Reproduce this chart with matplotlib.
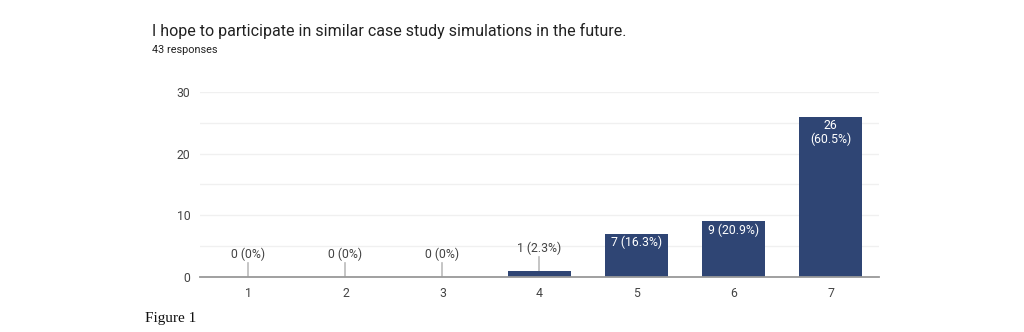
import os

os.environ.setdefault("MPLBACKEND", "Agg")

import matplotlib.pyplot as plt
import numpy as np

plt.rcParams.update({"font.family": ["Roboto", "DejaVu Sans"]})

# data
categories = ["1", "2", "3", "4", "5", "6", "7"]
counts = [0, 0, 0, 1, 7, 9, 26]
percents = ["0%", "0%", "0%", "2.3%", "16.3%", "20.9%", "60.5%"]
y_ticks = [0, 10, 20, 30]

BAR = "#2f4574"
GRID = "#f0f0f0"
TEXT = "#444444"

fig = plt.figure(figsize=(10.24, 3.32), dpi=100)
ax = fig.add_axes([0.1953, 0.1657, 0.6631, 0.5572])

x = np.arange(1, len(categories) + 1)
ax.bar(x, counts, width=0.64, color=BAR, zorder=3)

ax.set_xlim(0.5, len(categories) + 0.5)
ax.set_ylim(0, 30)
ax.set_yticks(y_ticks)
ax.set_yticks([5, 15, 25], minor=True)
ax.set_xticks(x)
ax.set_xticklabels(categories)
ax.tick_params(axis="both", length=0, labelsize=8.8, labelcolor=TEXT, pad=7)
ax.tick_params(axis="y", which="minor", length=0)
ax.grid(axis="y", which="both", color=GRID, linewidth=1, zorder=0)
for side in ("top", "right", "left"):
    ax.spines[side].set_visible(False)
ax.spines["bottom"].set_color("#999999")
ax.spines["bottom"].set_linewidth(1.3)
ax.spines["bottom"].set_zorder(4)

for xi, n, pct in zip(x, counts, percents):
    label = f"{n} ({pct})"
    if n <= 1:
        # label above with a small leader line
        ax.plot([xi, xi], [n, n + 2.2], color="#bbbbbb", linewidth=1.2, zorder=2)
        ax.text(xi, n + 2.6, label, ha="center", va="bottom", fontsize=8.8, color=TEXT)
    elif n >= 20:
        ax.text(xi, n - 0.3, f"{n}\n({pct})", ha="center", va="top", fontsize=8.8,
                color="white", linespacing=1.1, zorder=5)
    else:
        ax.text(xi, n - 0.3, label, ha="center", va="top", fontsize=8.8,
                color="white", zorder=5)

fig.text(0.1485, 0.908, "I hope to participate in similar case study simulations in the future.",
         fontsize=11.5, color="#222222", va="center", ha="left")
fig.text(0.1485, 0.848, "43 responses", fontsize=7.8, color="#222222", va="center", ha="left")
fig.text(0.1416, 0.04, "Figure 1", fontsize=11, family="Liberation Serif",
         color="#111111", va="center", ha="left")

fig.savefig("out.png", dpi=100)
